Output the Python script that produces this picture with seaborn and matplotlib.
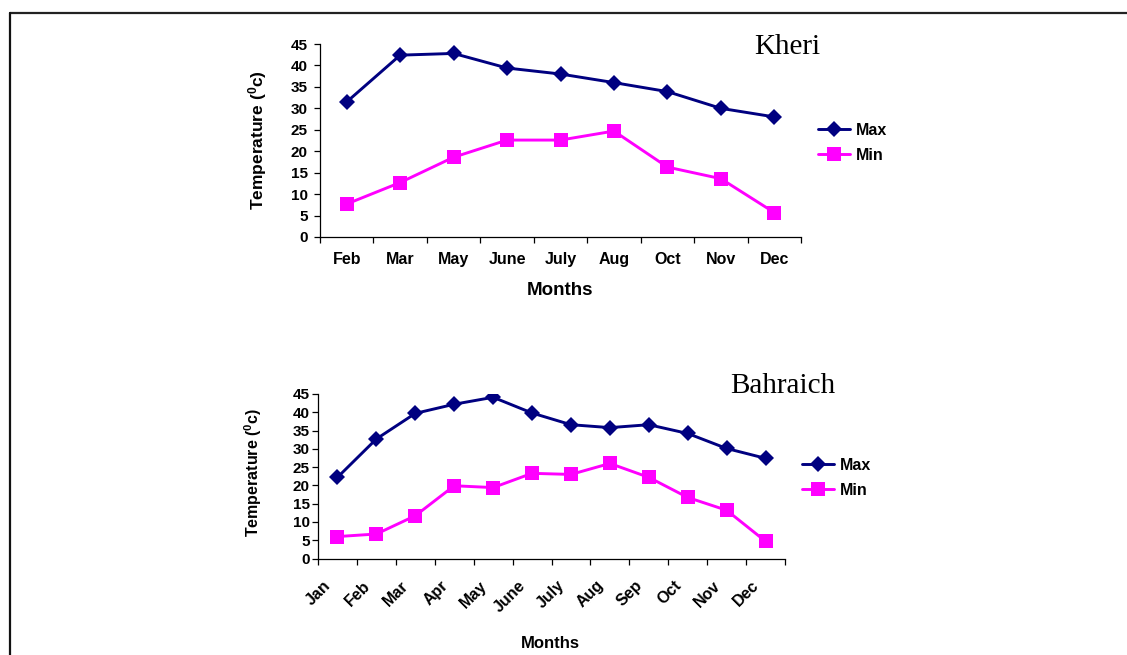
import numpy as np
import pandas as pd
import matplotlib
matplotlib.use("Agg")
import matplotlib.pyplot as plt
import seaborn as sns
from matplotlib.lines import Line2D
from matplotlib.ticker import FixedLocator
from matplotlib.transforms import ScaledTranslation

# Monthly temperature records (degrees C)
kheri_months = ["Feb", "Mar", "May", "June", "July", "Aug", "Oct", "Nov", "Dec"]
kheri_max = [31.5, 42.4, 42.8, 39.4, 38.0, 36.0, 33.9, 30.0, 28.0]
kheri_min = [7.7, 12.7, 18.6, 22.6, 22.6, 24.7, 16.3, 13.6, 5.7]

bahraich_months = ["Jan", "Feb", "Mar", "Apr", "May", "June", "July", "Aug",
                   "Sep", "Oct", "Nov", "Dec"]
bahraich_max = [22.2, 32.7, 39.7, 42.2, 44.1, 39.8, 36.6, 35.8, 36.6, 34.2, 30.1, 27.4]
bahraich_min = [6.0, 6.7, 11.7, 19.9, 19.4, 23.3, 23.0, 26.0, 22.2, 16.7, 13.2, 4.7]

series_names = ["Max", "Min"]
y_ticks = [0, 5, 10, 15, 20, 25, 30, 35, 40, 45]

sns.set_style("white")
plt.rcParams["font.family"] = ["Liberation Sans", "DejaVu Sans"]
plt.rcParams["font.weight"] = "bold"
plt.rcParams["text.color"] = "black"
plt.rcParams["axes.labelcolor"] = "black"
plt.rcParams["xtick.color"] = "black"
plt.rcParams["ytick.color"] = "black"
plt.rcParams["mathtext.fontset"] = "custom"
plt.rcParams["mathtext.rm"] = "Liberation Sans:bold"
plt.rcParams["mathtext.bf"] = "Liberation Sans:bold"
plt.rcParams["mathtext.it"] = "Liberation Sans:bold"

W, H, DPI = 1127, 655, 100
fig = plt.figure(figsize=(W / DPI, H / DPI), dpi=DPI)
fig.patch.set_facecolor("white")

MAX_COLOR = "#000080"
MIN_COLOR = "#FF00FF"
LW = 2.1
D_SIZE = 8.5
S_SIZE = 10


def px_rect(left, top, right, bottom):
    return [left / W, 1 - bottom / H, (right - left) / W, (bottom - top) / H]


def draw_panel(ax, months, tmax, tmin):
    pos = np.arange(len(months))
    df = pd.DataFrame({"pos": pos, "Max": tmax, "Min": tmin})
    sns.lineplot(data=df, x="pos", y="Max", ax=ax, color=MAX_COLOR, linewidth=LW,
                 marker="D", markersize=D_SIZE, markeredgewidth=0,
                 label=series_names[0], legend=False)
    sns.lineplot(data=df, x="pos", y="Min", ax=ax, color=MIN_COLOR, linewidth=LW,
                 marker="s", markersize=S_SIZE, markeredgewidth=0,
                 label=series_names[1], legend=False)
    ax.set_xlim(-0.5, len(months) - 0.5)
    ax.set_ylim(0, 45)
    ax.set_facecolor("white")
    for side in ["top", "right"]:
        ax.spines[side].set_visible(False)
    for side in ["left", "bottom"]:
        ax.spines[side].set_color("black")
        ax.spines[side].set_linewidth(0.9)
    ax.set_yticks(y_ticks)
    ax.xaxis.set_major_locator(FixedLocator(pos))
    ax.xaxis.set_minor_locator(FixedLocator(np.arange(-0.5, len(months), 1.0)))
    ax.set_xticklabels(months)
    ax.tick_params(axis="x", which="major", length=0)
    ax.tick_params(axis="x", which="minor", length=4, width=0.9, direction="out",
                   color="black", bottom=True)
    ax.tick_params(axis="y", which="major", length=4, width=0.9, direction="out",
                   color="black", left=True)
    ax.grid(False)


# Kheri panel
ax1 = fig.add_axes(px_rect(320, 44, 801, 237))
draw_panel(ax1, kheri_months, kheri_max, kheri_min)
ax1.tick_params(axis="y", labelsize=11, pad=5)
ax1.tick_params(axis="x", which="major", labelsize=11.5, pad=19.5)
for lbl in ax1.get_xticklabels():
    lbl.set_va("baseline")
ax1.set_xlabel("Months", fontsize=13.5, fontweight="bold")
ax1.xaxis.set_label_coords(0.498, -0.235)
ax1.set_ylabel(r"Temperature ($\mathbf{^{0}}$c)", fontsize=12.5, fontweight="bold")
ax1.yaxis.set_label_coords(-0.105, 0.5)

# Bahraich panel
ax2 = fig.add_axes(px_rect(318, 394, 785, 558.5))
draw_panel(ax2, bahraich_months, bahraich_max, bahraich_min)
ax2.tick_params(axis="y", labelsize=11, pad=2)
ax2.tick_params(axis="x", which="major", labelsize=11.5, pad=17)
for lbl in ax2.get_xticklabels():
    lbl.set_rotation(45)
    lbl.set_ha("right")
    lbl.set_va("center_baseline")
    lbl.set_rotation_mode("anchor")
    lbl.set_transform(lbl.get_transform()
                      + ScaledTranslation(-10 / DPI, 0, fig.dpi_scale_trans))
ax2.set_xlabel("Months", fontsize=12, fontweight="bold")
ax2.xaxis.set_label_coords(0.498, -0.47)
ax2.set_ylabel(r"Temperature ($\mathbf{^{0}}$c)", fontsize=11.5, fontweight="bold")
ax2.yaxis.set_label_coords(-0.115, 0.52)

# Legends beside each panel
for ax, (lx, ly) in [(ax1, (818, 123)), (ax2, (802, 458))]:
    handles = [Line2D([], [], color=MAX_COLOR, lw=LW, marker="D", markersize=D_SIZE,
                      markeredgewidth=0),
               Line2D([], [], color=MIN_COLOR, lw=LW, marker="s", markersize=S_SIZE,
                      markeredgewidth=0)]
    ax.legend(handles, series_names, loc="upper left",
              bbox_to_anchor=(lx / W, 1 - ly / H), bbox_transform=fig.transFigure,
              frameon=False, borderpad=0, borderaxespad=0, handlelength=2.0,
              handletextpad=0.35, labelspacing=0.6,
              prop={"family": "Liberation Sans", "weight": "bold", "size": 11.5})

# Station names
fig.text(787 / W, 1 - 54 / H, "Kheri", family="Liberation Serif", fontsize=21,
         ha="center", va="baseline", fontweight="normal", color="black")
fig.text(783 / W, 1 - 393 / H, "Bahraich", family="Liberation Serif", fontsize=21,
         ha="center", va="baseline", fontweight="normal", color="black")

# Page border
fig.add_artist(Line2D([10 / W, 1.0], [1 - 12.5 / H, 1 - 12.5 / H],
                      transform=fig.transFigure, color="#222222", lw=1.6))
fig.add_artist(Line2D([10 / W, 10 / W], [1 - 12.5 / H, 0.0],
                      transform=fig.transFigure, color="#111111", lw=1.6))

fig.savefig("out.png", dpi=DPI, facecolor="white")
